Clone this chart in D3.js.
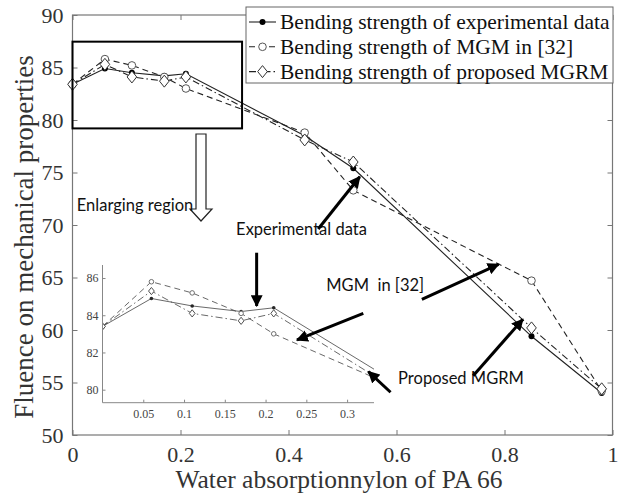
<!DOCTYPE html>
<html>
<head>
<meta charset="utf-8">
<script src="https://d3js.org/d3.v7.min.js"></script>
<style>
  body { margin: 0; background: #fff; }
  .serif { font-family: "Liberation Serif", "DejaVu Serif", serif; }
  .note { font-family: Lato, "Liberation Sans", sans-serif; font-size: 16.5px; fill: #111; }
</style>
</head>
<body>
<svg id="chart" width="621" height="493"></svg>
<script>
// water absorption values
const waterX = [0, 0.06, 0.11, 0.17, 0.21, 0.43, 0.52, 0.85, 0.98];
// bending strength series
const expData  = [83.4, 84.9, 84.5, 84.2, 84.4, 78.5, 75.4, 59.4, 54.0];
const mgmData  = [83.4, 85.8, 85.2, 84.1, 83.0, 78.8, 73.3, 64.7, 54.2];
const mgrmData = [83.4, 85.3, 84.1, 83.7, 84.1, 78.1, 76.0, 60.2, 54.4];

const xTicks = [0, 0.2, 0.4, 0.6, 0.8, 1];
const yTicks = [50, 55, 60, 65, 70, 75, 80, 85, 90];
const insetXTicks = [0.05, 0.1, 0.15, 0.2, 0.25, 0.3];
const insetYTicks = [80, 82, 84, 86];

const legendLabels = [
  "Bending strength of experimental data",
  "Bending strength of MGM in [32]",
  "Bending strength of proposed MGRM"
];

const svg = d3.select("#chart");

const x = d3.scaleLinear().domain([0, 1]).range([72.5, 612.5]);
const y = d3.scaleLinear().domain([50, 90]).range([435, 15]);

const series = [
  {vals: expData,  dash: null,          marker: "dot"},
  {vals: mgmData,  dash: "6,4",         marker: "circle"},
  {vals: mgrmData, dash: "7,3,1.5,3",   marker: "diamond"}
];

svg.append("defs").append("marker")
  .attr("id", "head")
  .attr("viewBox", "0 0 10 10")
  .attr("refX", 9).attr("refY", 5)
  .attr("markerWidth", 4).attr("markerHeight", 4)
  .attr("orient", "auto")
  .append("path").attr("d", "M0,0 L10,5 L0,10 z").attr("fill", "#000");

// axes frame
const axisCol = "#777";
svg.append("rect")
  .attr("x", x(0)).attr("y", y(90))
  .attr("width", x(1) - x(0)).attr("height", y(50) - y(90))
  .attr("fill", "none").attr("stroke", axisCol).attr("stroke-width", 1.2);

const gx = svg.append("g").attr("transform", `translate(0,${y(50)})`)
  .call(d3.axisBottom(x).tickValues(xTicks).tickSize(-5).tickPadding(12).tickFormat(d3.format("")));
const gxTop = svg.append("g").attr("transform", `translate(0,${y(90)})`)
  .call(d3.axisTop(x).tickValues(xTicks).tickSize(-5).tickFormat(""));
const gy = svg.append("g").attr("transform", `translate(${x(0)},0)`)
  .call(d3.axisLeft(y).tickValues(yTicks).tickSize(-5).tickPadding(9));
const gyR = svg.append("g").attr("transform", `translate(${x(1)},0)`)
  .call(d3.axisRight(y).tickValues(yTicks).tickSize(-5).tickFormat(""));

[gx, gxTop, gy, gyR].forEach(g => {
  g.select(".domain").remove();
  g.selectAll(".tick line").attr("stroke", axisCol);
  g.selectAll("text").attr("class", "serif").attr("font-size", 22).attr("fill", "#333");
});
gx.selectAll("text").attr("dy", "0.68em");

svg.append("text").attr("class", "serif")
  .attr("x", 339).attr("y", 488).attr("text-anchor", "middle")
  .attr("font-size", 25.5).attr("fill", "#333")
  .text("Water absorptionnylon of PA 66");
svg.append("text").attr("class", "serif")
  .attr("transform", `translate(33,237) rotate(-90)`)
  .attr("text-anchor", "middle").attr("font-size", 27).attr("fill", "#333")
  .text("Fluence on mechanical properties");

function drawMarker(g, kind, cx, cy, s) {
  if (kind === "dot") {
    g.append("circle").attr("cx", cx).attr("cy", cy).attr("r", 3 * s).attr("fill", "#000");
  } else if (kind === "circle") {
    g.append("circle").attr("cx", cx).attr("cy", cy).attr("r", 3.8 * s)
      .attr("fill", "#fff").attr("stroke", "#555").attr("stroke-width", 1);
  } else {
    const r = 6 * s;
    g.append("path").attr("d", `M${cx},${cy - r}L${cx + r * 0.8},${cy}L${cx},${cy + r}L${cx - r * 0.8},${cy}Z`)
      .attr("fill", "#fff").attr("stroke", "#333").attr("stroke-width", 1);
  }
}

function drawSeries(g, xs, ys, scale) {
  series.forEach(s => {
    const line = d3.line().x((d, i) => xs(waterX[i])).y(d => ys(d));
    g.append("path").datum(s.vals).attr("d", line)
      .attr("fill", "none").attr("stroke", "#222").attr("stroke-width", scale < 1 ? 0.8 : 1.1)
      .attr("stroke-dasharray", s.dash);
  });
  series.forEach(s => {
    s.vals.forEach((v, i) => drawMarker(g, s.marker, xs(waterX[i]), ys(v), scale));
  });
}

drawSeries(svg.append("g"), x, y, 1);

// enlarging region box
svg.append("rect")
  .attr("x", x(0)).attr("y", y(87.46))
  .attr("width", x(0.314) - x(0)).attr("height", y(79.2) - y(87.46))
  .attr("fill", "none").attr("stroke", "#000").attr("stroke-width", 2);

// hollow arrow
svg.append("path")
  .attr("d", "M196,134 L206,134 L206,209 L212,209 L201,221 L190,209 L196,209 Z")
  .attr("fill", "#fff").attr("stroke", "#222").attr("stroke-width", 1.2);

// legend
const leg = svg.append("g");
leg.append("rect").attr("x", 246).attr("y", 7).attr("width", 367).attr("height", 76)
  .attr("fill", "#fff").attr("stroke", "#666").attr("stroke-width", 1);
legendLabels.forEach((lab, i) => {
  const ly = 22 + i * 24.8;
  leg.append("line").attr("x1", 249).attr("x2", 276).attr("y1", ly).attr("y2", ly)
    .attr("stroke", "#222").attr("stroke-width", 1.1).attr("stroke-dasharray", series[i].dash);
  drawMarker(leg, series[i].marker, 262.5, ly, 1);
  leg.append("text").attr("class", "serif").attr("x", 280).attr("y", ly).attr("dy", "0.33em")
    .attr("font-size", 21.5).attr("fill", "#111").text(lab);
});

// inset
const ix = d3.scaleLinear().domain([0, 0.333]).range([102.5, 374]);
const iy = d3.scaleLinear().domain([79.3, 86.7]).range([402.7, 265]);
const inset = svg.append("g");
inset.append("clipPath").attr("id", "insetClip").append("rect")
  .attr("x", ix(0)).attr("y", iy(86.7)).attr("width", ix(0.333) - ix(0)).attr("height", iy(79.3) - iy(86.7));
const ig = inset.append("g").attr("clip-path", "url(#insetClip)").attr("opacity", 0.85);
drawSeries(ig, ix, iy, 0.6);

const igx = inset.append("g").attr("transform", `translate(0,${iy(79.3)})`)
  .call(d3.axisBottom(ix).tickValues(insetXTicks).tickSize(-3).tickPadding(7).tickFormat(d3.format("")));
const igy = inset.append("g").attr("transform", `translate(${ix(0)},0)`)
  .call(d3.axisLeft(iy).tickValues(insetYTicks).tickSize(-3).tickPadding(4));
[igx, igy].forEach(g => {
  g.select(".domain").attr("stroke", "#888");
  g.selectAll(".tick line").attr("stroke", "#888");
  g.selectAll("text").attr("class", "serif").attr("font-size", 12).attr("fill", "#444");
});
igx.select(".domain").attr("d", `M${ix(0)},0H${ix(0.333)}`);
igy.select(".domain").attr("d", `M0,${iy(79.3)}V${iy(86.7)}`);

// annotations (positions in main-axis data units)
const notes = [
  {text: "Enlarging region", x: 0.008, y: 71.9},
  {text: "Experimental data", x: 0.303, y: 69.6},
  {text: "MGM  in [32]", x: 0.470, y: 64.3},
  {text: "Proposed MGRM", x: 0.603, y: 55.4}
];
notes.forEach(n => {
  svg.append("text").attr("class", "note").attr("x", x(n.x)).attr("y", y(n.y)).attr("dy", "0.35em")
    .attr("xml:space", "preserve").style("white-space", "pre").text(n.text);
});

const arrows = [
  [0.455, 69.62, 0.532, 74.6],
  [0.341, 67.36, 0.341, 62.29],
  [0.647, 62.92, 0.789, 66.26],
  [0.5385, 61.59, 0.4157, 59.05],
  [0.742, 55.65, 0.834, 61.02],
  [0.589, 54.07, 0.548, 56.03]
];
arrows.forEach(a => {
  svg.append("line")
    .attr("x1", x(a[0])).attr("y1", y(a[1])).attr("x2", x(a[2])).attr("y2", y(a[3]))
    .attr("stroke", "#000").attr("stroke-width", 3).attr("marker-end", "url(#head)");
});
</script>
</body>
</html>
